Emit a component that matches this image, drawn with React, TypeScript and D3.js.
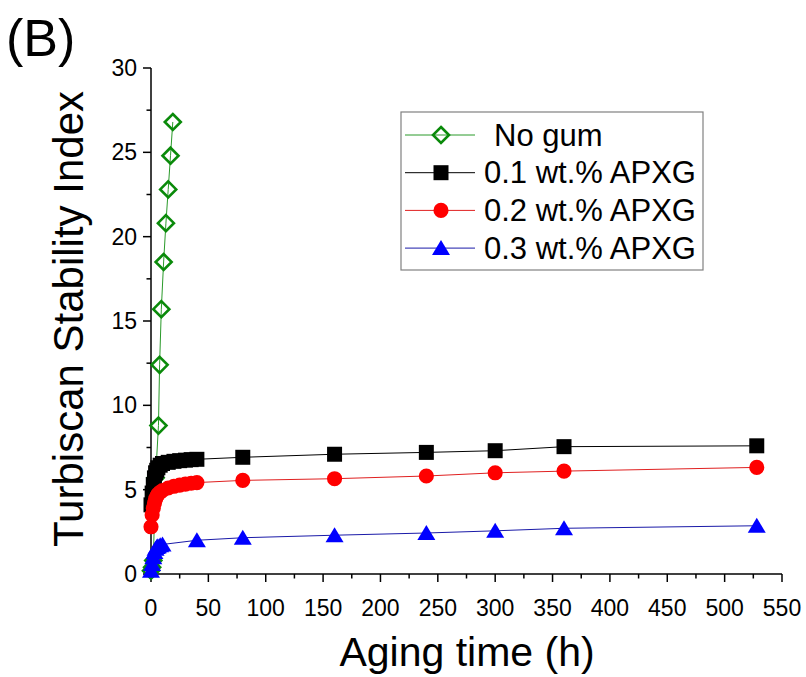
import React from "react";
import * as d3 from "d3";

// ---- data ----
const timeNoGum = [0, 1, 2, 4, 6.5, 7.5, 9, 11, 13, 15, 17, 19];
const tsiNoGum = [0.2, 0.4, 0.8, 5.7, 8.8, 12.4, 15.7, 18.5, 20.8, 22.8, 24.8, 26.8];

const timeAPXG = [0, 1, 2, 3, 4, 5, 6, 8, 10, 15, 20, 25, 30, 35, 40, 80, 160, 240, 300, 360, 528];
const tsi01 = [4.1, 4.8, 5.3, 5.7, 6.0, 6.15, 6.3, 6.45, 6.55, 6.62, 6.68, 6.72, 6.75, 6.78, 6.8, 6.92, 7.1, 7.21, 7.31, 7.55, 7.6];
const tsi02 = [2.8, 3.5, 3.9, 4.2, 4.45, 4.6, 4.72, 4.85, 4.95, 5.1, 5.2, 5.27, 5.33, 5.38, 5.42, 5.55, 5.65, 5.81, 6.0, 6.1, 6.32];

const time03 = [0, 1, 2, 3, 4, 5, 6, 8, 10, 40, 80, 160, 240, 300, 360, 528];
const tsi03 = [0.2, 0.6, 1.0, 1.3, 1.5, 1.6, 1.65, 1.7, 1.75, 2.0, 2.15, 2.3, 2.43, 2.56, 2.71, 2.86];

const seriesNames = ["No gum", "0.1 wt.% APXG", "0.2 wt.% APXG", "0.3 wt.% APXG"];
const xTicks = [0, 50, 100, 150, 200, 250, 300, 350, 400, 450, 500, 550];
const yTicks = [0, 5, 10, 15, 20, 25, 30];

const FONT = "'Liberation Sans', Arial, sans-serif";

type Shape = "diamond" | "square" | "circle" | "triangle";

function markerPath(shape: Shape): string {
  if (shape === "diamond") return "M0,-8L8,0L0,8L-8,0Z";
  if (shape === "triangle") return "M0,-8L9,7L-9,7Z";
  if (shape === "square") return d3.symbol(d3.symbolSquare, 225)() as string;
  return d3.symbol(d3.symbolCircle, 180)() as string;
}

export default function App() {
  const W = 806, H = 677;
  const x = d3.scaleLinear().domain([0, 550]).range([151, 782]);
  const y = d3.scaleLinear().domain([0, 30]).range([574, 68]);

  const series = [
    { name: seriesNames[0], t: timeNoGum, v: tsiNoGum, shape: "diamond" as Shape, color: "#0a8a0a", line: "#2a9a2a", fill: "none" },
    { name: seriesNames[1], t: timeAPXG, v: tsi01, shape: "square" as Shape, color: "#000000", line: "#000000", fill: "#000000" },
    { name: seriesNames[2], t: timeAPXG, v: tsi02, shape: "circle" as Shape, color: "#ff0000", line: "#e02020", fill: "#ff0000" },
    { name: seriesNames[3], t: time03, v: tsi03, shape: "triangle" as Shape, color: "#0000ff", line: "#1a1aa8", fill: "#0000ff" },
  ];

  const line = d3.line<[number, number]>().x(d => x(d[0])).y(d => y(d[1]));

  const xMinor = d3.range(25, 550, 50);
  const yMinor = d3.range(2.5, 30, 5);

  const legX = 401, legY = 112, legW = 302, legH = 158;

  return (
    <svg width={W} height={H} style={{ position: "absolute", left: 0, top: 0, background: "#fff" }} fontFamily={FONT}>
      <rect width={W} height={H} fill="#fff" />
      {/* panel label */}
      <text x={6} y={56} fontSize={52} fill="#000">(B)</text>

      {/* axes */}
      <line x1={x(0)} x2={x(0)} y1={y(30)} y2={y(0) + 0.5} stroke="#000" strokeWidth={1.5} />
      <line x1={x(0)} x2={x(550)} y1={y(0)} y2={y(0)} stroke="#000" strokeWidth={1.5} />
      {yTicks.map(t => (
        <g key={"yt" + t}>
          <line x1={x(0) - 8} x2={x(0)} y1={y(t)} y2={y(t)} stroke="#000" strokeWidth={1.5} />
          <text x={x(0) - 14} y={y(t) + 8} fontSize={23} textAnchor="end" fill="#000">{t}</text>
        </g>
      ))}
      {yMinor.map(t => (
        <line key={"ym" + t} x1={x(0) - 4.5} x2={x(0)} y1={y(t)} y2={y(t)} stroke="#000" strokeWidth={1.5} />
      ))}
      {xTicks.map(t => (
        <g key={"xt" + t}>
          <line x1={x(t)} x2={x(t)} y1={y(0)} y2={y(0) + 8} stroke="#000" strokeWidth={1.5} />
          <text x={x(t)} y={y(0) + 42} fontSize={23} textAnchor="middle" fill="#000">{t}</text>
        </g>
      ))}
      {xMinor.map(t => (
        <line key={"xm" + t} x1={x(t)} x2={x(t)} y1={y(0)} y2={y(0) + 4.5} stroke="#000" strokeWidth={1.5} />
      ))}

      {/* axis titles */}
      <text x={467} y={666} fontSize={41} textAnchor="middle" fill="#000">Aging time (h)</text>
      <text transform="translate(83,319) rotate(-90)" fontSize={42} textAnchor="middle" fill="#000">Turbiscan Stability Index</text>

      {/* series */}
      {series.map(s => {
        const pts = s.t.map((t, i) => [t, s.v[i]] as [number, number]);
        const p = markerPath(s.shape);
        return (
          <g key={s.name}>
            <path d={line(pts) as string} fill="none" stroke={s.line} strokeWidth={1} />
            {pts.map((d, i) => (
              <path key={i} d={p} transform={`translate(${x(d[0])},${y(d[1])})`}
                fill={s.fill} stroke={s.color} strokeWidth={s.shape === "diamond" ? 2.6 : 0} />
            ))}
          </g>
        );
      })}

      {/* legend */}
      <rect x={legX} y={legY} width={legW} height={legH} fill="#fff" stroke="#808080" strokeWidth={1.2} />
      {series.map((s, i) => {
        const cy = 135 + i * 37.7;
        return (
          <g key={"lg" + i}>
            <line x1={405} x2={475} y1={cy} y2={cy} stroke={s.line} strokeWidth={1} />
            <path d={markerPath(s.shape)} transform={`translate(441,${cy})`} fill={s.fill} stroke={s.color}
              strokeWidth={s.shape === "diamond" ? 2.6 : 0} />
            <text x={i === 0 ? 494 : 484} y={cy + 10.5} fontSize={31} fill="#000">{s.name}</text>
          </g>
        );
      })}
    </svg>
  );
}
